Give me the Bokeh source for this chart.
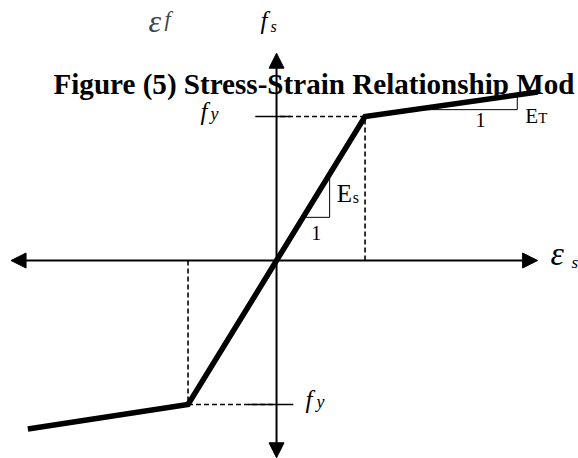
from bokeh.plotting import figure
from bokeh.models import Range1d, Arrow, NormalHead, Label
from bokeh.embed import file_html
from bokeh.resources import INLINE

# Bilinear (elastic / strain-hardening) steel model, normalised so that
# yield strain = 1 and yield stress = 1.
eps_y = 1.0
f_y = 1.0
strain = [-2.81, -eps_y, 0.0, eps_y, 2.95]
stress = [-1.17, -f_y, 0.0, f_y, 1.17]

# Extent of the drawn strain / stress axes (arrow tips)
axis_x = [-3.0, 2.95]
axis_y = [-1.37, 1.44]

# Slope triangles: two points on each branch
es_tri_x = [0.30, 0.60]
et_tri_x = [1.55, 2.72]

SERIF = "Liberation Serif"

p = figure(width=578, height=458, x_range=Range1d(-3.119, 3.412),
           y_range=Range1d(-1.375, 1.806), toolbar_location=None,
           output_backend="svg", x_axis_type=None, y_axis_type=None,
           title=None, min_border=0, outline_line_color=None,
           background_fill_color="white", border_fill_color="white")
p.grid.visible = False

# caption text (sits behind the diagram)
p.add_layout(Label(x=53, y=458 - 83, x_units="screen", y_units="screen",
                   text="Figure (5) Stress-Strain Relationship Mod",
                   text_font=SERIF, text_font_style="bold",
                   text_font_size="29.1px", text_baseline="alphabetic",
                   text_color="black"))
p.add_layout(Label(x=148, y=458 - 20, x_units="screen", y_units="screen",
                   text="\u03b5", text_font=SERIF, text_font_style="italic",
                   text_font_size="32px", text_baseline="alphabetic"))
p.add_layout(Label(x=164, y=458 - 18, x_units="screen", y_units="screen",
                   text="f", text_font=SERIF, text_font_style="italic",
                   text_font_size="22px", text_baseline="alphabetic"))

# axes with arrow heads at both ends
def head():
    return NormalHead(size=15, fill_color="black", line_color="black", line_width=1)

p.add_layout(Arrow(x_start=axis_x[0], y_start=0, x_end=axis_x[1], y_end=0,
                   start=head(), end=head(), line_width=2, line_color="black"))
p.add_layout(Arrow(x_start=0, y_start=axis_y[0], x_end=0, y_end=axis_y[1],
                   start=head(), end=head(), line_width=2, line_color="black"))

# dashed projections of the yield points
dash = dict(line_color="black", line_width=1.6, line_dash="5 3")
for s in (1, -1):
    p.line([s * eps_y, s * eps_y], [0, s * f_y], **dash)
    p.line([s * eps_y, 0], [s * f_y, s * f_y], **dash)
# yield stress ticks across the vertical axis
p.line([-0.24, 0.16], [f_y, f_y], line_color="black", line_width=1.6)
p.line([-0.32, 0.19], [-f_y, -f_y], line_color="black", line_width=1.6)

# slope triangles
def branch(x):
    for i in range(len(strain) - 1):
        if strain[i] <= x <= strain[i + 1]:
            t = (x - strain[i]) / (strain[i + 1] - strain[i])
            return stress[i] + t * (stress[i + 1] - stress[i])
    return 0.0

for a, b in (es_tri_x, et_tri_x):
    ya, yb = branch(a), branch(b)
    p.line([a, b, b], [ya, ya, yb], line_color="black", line_width=1)

# stress-strain curve
p.line(strain, stress, line_color="black", line_width=5.5, line_join="miter")

# labels
def lab(x, y, text, size, style="normal", align="left", xo=0, yo=0):
    p.add_layout(Label(x=x, y=y, text=text, text_font=SERIF,
                       text_font_style=style, text_font_size=size,
                       text_align=align, text_baseline="alphabetic",
                       x_offset=xo, y_offset=yo, text_color="black"))

# f_s on top of the stress axis
lab(0, axis_y[1], "f", "25px", "italic", xo=-16, yo=33)
lab(0, axis_y[1], "s", "16px", "italic", xo=-6, yo=27)
# epsilon_s at the end of the strain axis
lab(axis_x[1], 0, "\u03b5", "34px", "italic", xo=13, yo=7)
lab(axis_x[1], 0, "s", "17px", "italic", xo=34, yo=-2)
# yield stress labels
lab(0, f_y, "f", "25px", "italic", xo=-76, yo=5)
lab(0, f_y, "y", "18px", "italic", xo=-66, yo=3)
lab(0, -f_y, "f", "25px", "italic", xo=29, yo=5)
lab(0, -f_y, "y", "18px", "italic", xo=40, yo=3)
# elastic modulus
lab(es_tri_x[0] + 0.15, branch(es_tri_x[0]), "1", "20px", align="center", yo=-16)
lab(es_tri_x[1], branch(es_tri_x[1]), "E", "25px", xo=7, yo=-19)
lab(es_tri_x[1], branch(es_tri_x[1]), "s", "16px", xo=23, yo=-23)
# hardening modulus
lab(2.305, branch(et_tri_x[0]), "1", "20px", align="center", yo=-10)
lab(et_tri_x[1], branch(et_tri_x[0]), "E", "21px", xo=8, yo=-6)
lab(et_tri_x[1], branch(et_tri_x[0]), "T", "15px", xo=21, yo=-8)

open("out.html", "w").write(file_html(p, INLINE))
